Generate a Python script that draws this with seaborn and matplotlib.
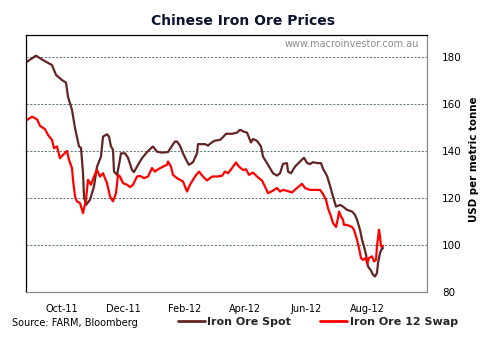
import matplotlib
matplotlib.use("Agg")
import matplotlib.pyplot as plt
import matplotlib.dates as mdates
import numpy as np
import pandas as pd
import seaborn as sns

# Daily iron ore prices, USD per metric tonne
spot_dates = [
    "2011-08-27", "2011-09-05", "2011-09-12", "2011-09-21", "2011-09-25", "2011-10-01",
    "2011-10-05", "2011-10-07", "2011-10-11", "2011-10-14", "2011-10-18", "2011-10-20",
    "2011-10-22", "2011-10-23", "2011-10-25", "2011-10-29", "2011-11-02", "2011-11-05",
    "2011-11-09", "2011-11-11", "2011-11-15", "2011-11-17", "2011-11-19", "2011-11-21",
    "2011-11-22", "2011-11-25", "2011-11-27", "2011-11-29", "2011-12-03", "2011-12-06",
    "2011-12-10", "2011-12-12", "2011-12-16", "2011-12-20", "2011-12-25", "2011-12-30",
    "2011-12-31", "2012-01-04", "2012-01-09", "2012-01-15", "2012-01-19", "2012-01-22",
    "2012-01-24", "2012-01-27", "2012-01-30", "2012-02-03", "2012-02-05", "2012-02-09",
    "2012-02-13", "2012-02-14", "2012-02-21", "2012-02-24", "2012-02-28", "2012-03-02",
    "2012-03-07", "2012-03-10", "2012-03-13", "2012-03-19", "2012-03-24", "2012-03-27",
    "2012-03-31", "2012-04-03", "2012-04-07", "2012-04-09", "2012-04-13", "2012-04-17",
    "2012-04-19", "2012-04-24", "2012-04-29", "2012-05-03", "2012-05-06", "2012-05-09",
    "2012-05-13", "2012-05-14", "2012-05-17", "2012-05-21", "2012-05-26", "2012-05-30",
    "2012-06-02", "2012-06-05", "2012-06-08", "2012-06-13", "2012-06-16", "2012-06-18",
    "2012-06-22", "2012-06-25", "2012-06-28", "2012-07-01", "2012-07-05", "2012-07-08",
    "2012-07-12", "2012-07-17", "2012-07-20", "2012-07-22", "2012-07-25", "2012-07-27",
    "2012-07-29", "2012-07-31", "2012-08-02", "2012-08-05", "2012-08-07", "2012-08-09",
    "2012-08-11", "2012-08-12", "2012-08-14", "2012-08-16", "2012-08-17",
]
spot_values = [
    178.1, 180.7, 178.8, 176.7, 172.5, 170.3,
    169.2, 163.2, 157.6, 149.9, 142.0, 141.4,
    130.7, 120.7, 117.1, 119.3, 125.0, 133.4,
    137.7, 146.2, 147.2, 146.2, 142.0, 140.6,
    131.3, 129.9, 134.2, 139.1, 139.1, 137.2,
    132.0, 131.1, 134.2, 137.0, 139.6, 141.7,
    142.0, 139.8, 139.4, 139.6, 142.3, 144.1,
    144.1, 142.3, 139.1, 135.6, 134.2, 135.3,
    139.1, 143.0, 143.0, 142.4, 143.8, 144.5,
    144.8, 146.0, 147.4, 147.4, 147.9, 149.1,
    148.3, 147.9, 143.7, 145.2, 144.4, 142.0,
    137.7, 134.2, 130.6, 129.6, 130.6, 134.6,
    134.9, 131.3, 130.6, 133.4, 135.6, 137.2,
    135.0, 134.5, 135.3, 134.9, 134.9, 132.5,
    129.5, 125.3, 120.7, 116.4, 117.1, 116.4,
    115.0, 114.3, 112.9, 110.8, 106.5, 102.3,
    99.4, 95.9, 90.9, 89.1, 87.4, 86.6,
    88.1, 92.3, 96.6, 98.7, 98.7,
]

swap_dates = [
    "2011-08-27", "2011-09-01", "2011-09-06", "2011-09-09", "2011-09-14", "2011-09-17",
    "2011-09-21", "2011-09-23", "2011-09-26", "2011-09-29", "2011-10-02", "2011-10-06",
    "2011-10-08", "2011-10-11", "2011-10-12", "2011-10-14", "2011-10-16", "2011-10-19",
    "2011-10-22", "2011-10-25", "2011-10-27", "2011-10-30", "2011-11-02", "2011-11-05",
    "2011-11-08", "2011-11-11", "2011-11-15", "2011-11-18", "2011-11-21", "2011-11-24",
    "2011-11-26", "2011-11-28", "2011-12-01", "2011-12-05", "2011-12-08", "2011-12-11",
    "2011-12-15", "2011-12-18", "2011-12-22", "2011-12-26", "2011-12-30", "2012-01-02",
    "2012-01-05", "2012-01-10", "2012-01-14", "2012-01-15", "2012-01-18", "2012-01-20",
    "2012-01-24", "2012-01-27", "2012-01-30", "2012-02-03", "2012-02-06", "2012-02-11",
    "2012-02-15", "2012-02-19", "2012-02-23", "2012-02-28", "2012-03-04", "2012-03-09",
    "2012-03-12", "2012-03-15", "2012-03-19", "2012-03-23", "2012-03-26", "2012-03-30",
    "2012-04-02", "2012-04-05", "2012-04-09", "2012-04-13", "2012-04-18", "2012-04-21",
    "2012-04-24", "2012-04-29", "2012-05-03", "2012-05-06", "2012-05-09", "2012-05-13",
    "2012-05-18", "2012-05-23", "2012-05-28", "2012-05-31", "2012-06-05", "2012-06-12",
    "2012-06-15", "2012-06-18", "2012-06-21", "2012-06-23", "2012-06-26", "2012-06-28",
    "2012-07-01", "2012-07-03", "2012-07-04", "2012-07-06", "2012-07-08", "2012-07-09",
    "2012-07-12", "2012-07-17", "2012-07-19", "2012-07-22", "2012-07-24", "2012-07-26",
    "2012-07-28", "2012-07-31", "2012-08-01", "2012-08-03", "2012-08-06", "2012-08-08",
    "2012-08-10", "2012-08-11", "2012-08-13", "2012-08-14", "2012-08-15", "2012-08-17",
]
swap_values = [
    153.3, 154.7, 153.6, 150.8, 149.4, 146.9,
    144.8, 141.3, 142.0, 137.0, 138.4, 140.1,
    136.3, 132.8, 127.8, 120.7, 118.6, 117.9,
    113.6, 119.3, 127.8, 125.7, 129.2, 132.0,
    129.2, 130.6, 126.4, 120.7, 118.6, 122.1,
    129.9, 129.2, 126.4, 125.7, 124.7, 125.7,
    129.2, 129.5, 128.5, 129.2, 132.8, 131.3,
    132.3, 133.4, 134.2, 135.6, 133.4, 129.9,
    128.5, 127.8, 127.1, 122.8, 125.7, 129.2,
    131.3, 129.2, 127.5, 129.2, 129.2, 129.5,
    131.3, 130.6, 132.8, 135.2, 133.4, 132.0,
    132.3, 129.9, 130.9, 129.2, 127.5, 124.9,
    122.1, 123.2, 124.3, 122.8, 123.5, 123.1,
    122.4, 124.3, 126.1, 124.3, 123.5, 123.5,
    123.5, 121.8, 119.3, 115.7, 112.2, 109.4,
    107.7, 111.5, 114.3, 112.2, 110.8, 108.6,
    108.6, 107.7, 106.5, 102.3, 98.7, 94.5,
    93.7, 94.5, 92.0, 94.5, 95.2, 93.0,
    93.7, 99.4, 106.5, 103.7, 99.4, 99.7,
]

series_names = ["Iron Ore Spot", "Iron Ore 12 Swap"]
series_colors = ["#632523", "#ff0000"]
y_ticks = [80, 100, 120, 140, 160, 180]
x_tick_dates = ["2011-10-01", "2011-12-01", "2012-02-01", "2012-04-01", "2012-06-01", "2012-08-01"]

df = pd.concat([
    pd.DataFrame({"date": pd.to_datetime(spot_dates), "price": spot_values, "series": series_names[0]}),
    pd.DataFrame({"date": pd.to_datetime(swap_dates), "price": swap_values, "series": series_names[1]}),
], ignore_index=True)

sns.set_theme(style="white")
plt.rcParams["font.family"] = ["DejaVu Sans"]

fig = plt.figure(figsize=(4.85, 3.45), dpi=100)
ax = fig.add_axes([26 / 485, 53 / 345, 401 / 485, 257 / 345])

sns.lineplot(data=df, x="date", y="price", hue="series", hue_order=series_names,
             palette=dict(zip(series_names, series_colors)), linewidth=1.6,
             estimator=None, sort=True, ax=ax, legend=True)

ax.set_xlim(pd.Timestamp("2011-08-26"), pd.Timestamp("2012-09-30"))
ax.set_ylim(80, 189.5)

# Value axis on the right, no tick marks
ax.yaxis.tick_right()
ax.set_yticks(y_ticks)
ax.tick_params(axis="y", length=0, pad=11, labelsize=7.5, colors="#000000")
ax.set_xticks(pd.to_datetime(x_tick_dates))
ax.xaxis.set_major_formatter(mdates.DateFormatter("%b-%y"))
ax.tick_params(axis="x", length=0, pad=9, labelsize=7, colors="#000000")
ax.set_xlabel("")
ax.set_ylabel("")

# Dashed horizontal gridlines
for v in y_ticks[1:]:
    ax.axhline(v, color="#5f7a78", linestyle=(0, (2.2, 1.6)), linewidth=0.7, zorder=0)

# Plot-area frame
ax.spines["top"].set_color("#000000")
ax.spines["left"].set_color("#000000")
ax.spines["right"].set_color("#8a8a8a")
ax.spines["bottom"].set_color("#8a8a8a")
for s in ax.spines.values():
    s.set_linewidth(0.9)
    s.set_visible(True)

fig.text(243 / 485, 1 - 21 / 345, "Chinese Iron Ore Prices", ha="center", va="center",
         fontsize=10, fontweight="bold", color="#0b1430")
ax.text(0.98, 0.965, "www.macroinvestor.com.au", transform=ax.transAxes, ha="right", va="center",
        fontsize=7, color="#8c8c8c")
fig.text(474 / 485, 1 - 159 / 345, "USD per metric tonne", rotation=90, ha="center", va="center",
         fontsize=7.4, fontweight="bold", color="#000000")
fig.text(12 / 485, 1 - 323 / 345, "Source: FARM, Bloomberg", ha="left", va="center",
         fontsize=7, color="#000000")

handles, labels = ax.get_legend_handles_labels()
ax.get_legend().remove()
for h in handles:
    h.set_linewidth(2)
fig.legend(handles, labels, loc="center left", bbox_to_anchor=(178 / 485, 1 - 322 / 345),
           ncol=2, frameon=False, handlelength=2.4, handletextpad=0.25, columnspacing=2.6,
           borderaxespad=0, borderpad=0, prop={"weight": "bold", "size": 8})

fig.savefig("out.png", dpi=100, facecolor="white")
